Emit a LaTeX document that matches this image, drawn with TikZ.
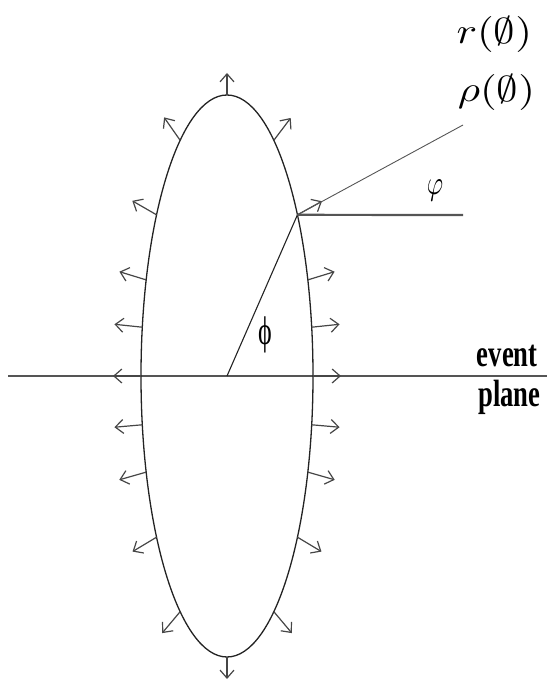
\documentclass[tikz,border=0pt]{standalone}
\usepackage{amsmath,amssymb}
\usepackage{fontspec}
\usepackage{tikz}
\usetikzlibrary{arrows.meta,calc,positioning}
\newfontfamily\timesfont{Liberation Serif}
\definecolor{rimgray}{RGB}{35,35,35}
\definecolor{axisgray}{RGB}{85,85,85}
\definecolor{vecgray}{RGB}{70,70,70}

\begin{document}
\begin{tikzpicture}[x=1pt,y=1pt,
    rim/.style={line width=1.3pt,rimgray},
    vec/.style={line width=1.2pt,vecgray,-{Straight Barb[length=8pt,width=14pt]}},
    axisline/.style={line width=2.2pt,axisgray},
    thinline/.style={line width=1.1pt,rimgray},
    mathlabel/.style={anchor=base east,inner sep=0pt,xscale=4.3,yscale=3.6}]
    \useasboundingbox (0,0) rectangle (547,681);
    % centre of the ellipse and the point at angle phi
    \coordinate (O) at (227,305);
    \coordinate (P) at ({227+86*cos(35)},{305+281*sin(35)});
    \coordinate (L) at (8,305);
    \coordinate (R) at (547,305);
    \coordinate (H) at (463,466);
    \coordinate (Q) at (463,556);
    \draw[axisline] (L) -- (R);
    \draw[rim] (O) ellipse [x radius=86, y radius=281];
    \foreach \t/\d/\l in {0/0/28,10/6/28,20/17/28,35/29/28,57/53/28,90/90/22,
        -10/-5/28,-20/-16/28,-35/-31/28,-57/-50/28,-90/-90/22,
        180/180/28,170/174/28,160/163/28,145/150/28,123/125/28,
        190/185/28,200/196/28,215/211/28,237/230/28} {
        \draw[vec] ({227+86*cos(\t)},{305+281*sin(\t)}) -- ++(\d:\l);
    }
    \draw[thinline] (O) -- (P);
    \draw[line width=0.9pt,axisgray] (P) -- (Q);
    \draw[line width=2.2pt,axisgray] (P) -- (H);
    \node[xscale=2.6,yscale=4] (phi) at (265,346) {\timesfont ϕ};
    \node[xscale=2.5,yscale=3.4] (vphi) at (435,491) {$\varphi$};
    \node[mathlabel] (r) at (533,637) {$r(\emptyset)$};
    \node[mathlabel] (rho) at (536,579) {$\rho(\emptyset)$};
    \node[anchor=base east,xscale=0.7] (ev) at (540,314) {\timesfont\bfseries\fontsize{38}{38}\selectfont event};
    \node[anchor=base east,xscale=0.7] (pl) at (543,274) {\timesfont\bfseries\fontsize{38}{38}\selectfont plane};
\end{tikzpicture}
\end{document}
